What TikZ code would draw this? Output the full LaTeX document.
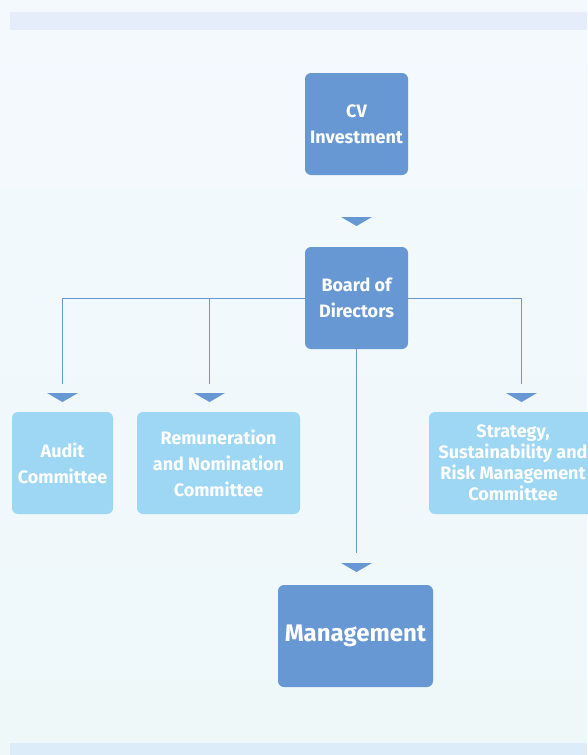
\documentclass[tikz,border=0pt]{standalone}
\usepackage{fontspec}
\setmainfont{Fira Sans}
\definecolor{bgtop}{HTML}{F4F9FE}
\definecolor{bgbot}{HTML}{EEF8F9}
\definecolor{bandtop}{HTML}{E4EDF9}
\definecolor{bandbot}{HTML}{DCECF9}
\definecolor{darkfill}{HTML}{6898D3}
\definecolor{lightfill}{HTML}{9ED7F3}
\tikzset{
  darkbox/.style={fill=darkfill, rounded corners=6pt, text=white, align=center, inner sep=0pt,
    font=\bfseries\fontsize{18}{26}\selectfont, minimum width=103pt, minimum height=102pt},
  lightbox/.style={fill=lightfill, rounded corners=6pt, text=white, align=center, inner sep=0pt,
    font=\bfseries\fontsize{18}{26}\selectfont, minimum height=102pt},
  conn/.style={draw=darkfill, line width=1pt},
  downtri/.pic={\fill[darkfill] (-15.5pt,0pt) -- (15.5pt,0pt) -- (0pt,-9pt) -- cycle;}
}
\begin{document}
\begin{tikzpicture}[x=1pt,y=-1pt]
\useasboundingbox (0,0) rectangle (587,755);
\shade[top color=bgtop, bottom color=bgbot] (0,0) rectangle (587,755);
\fill[bandtop] (10,12) rectangle (587,30);
\fill[bandbot] (10,743) rectangle (587,755);

\node[darkbox] (cv) at (356.5,124) {CV\\Investment};
\node[darkbox] (board) at (356.5,298) {Board of\\Directors};
\node[lightbox, minimum width=101pt] (audit) at (62.5,463) {Audit\\Committee};
\node[lightbox, minimum width=163pt] (remu) at (218.5,463) {Remuneration\\and Nomination\\Committee};
\node[lightbox, minimum width=168pt, font=\bfseries\fontsize{18}{21}\selectfont] (strat) at (513,463) {Strategy,\\Sustainability and\\Risk Management\\Committee};
\node[darkbox, minimum width=155pt, font=\bfseries\fontsize{24}{28}\selectfont] (mgmt) at (355.5,636) {Management};

\coordinate (ta) at (62.5,384);
\coordinate (tr) at (209.5,384);
\coordinate (ts) at (521.5,384);
\coordinate (tm) at (356.5,553);

\draw[conn] (board.west) -| (ta);
\draw[conn] (board.east) -| (ts);
\draw[conn] (board.west -| tr) -- (tr);
\draw[conn] (board.south) -- (tm);

\pic at (356.5,217) {downtri};
\pic at (62.5,393) {downtri};
\pic at (209.5,393) {downtri};
\pic at (521.5,393) {downtri};
\pic at (356.5,563) {downtri};
\end{tikzpicture}
\end{document}
